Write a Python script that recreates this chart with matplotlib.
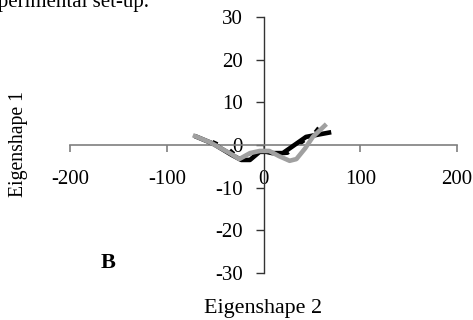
import matplotlib
matplotlib.use("Agg")
import matplotlib.pyplot as plt

plt.rcParams['font.family'] = ['Liberation Serif', 'DejaVu Serif']

# Data (Eigenshape 2, Eigenshape 1)
black_x = [-71, -52, -33, -23, -14, -4, 3, 9, 20, 32, 44, 58, 70]
black_y = [2.1, 0.3, -2.3, -3.5, -3.5, -1.6, -1.6, -1.9, -1.9, 0.0, 1.9, 2.5, 3.0]

gray_x = [-73, -55, -35, -25, -14, -4, 6, 16, 27, 34, 43, 51, 65]
gray_y = [2.3, 0.6, -1.9, -3.3, -1.9, -1.4, -1.4, -2.6, -3.7, -3.3, -0.8, 1.9, 4.9]

dash_x = [-72, -54, -36, -26, -15, -5, 5, 15, 25, 33, 42, 50, 58]
dash_y = [2.0, 1.0, -0.8, -2.8, -2.2, -1.2, -1.3, -2.2, -2.0, -0.6, 0.9, 2.2, 4.5]

xticks = [-200, -100, 0, 100, 200]
yticks = [-30, -20, -10, 0, 10, 20, 30]

fig = plt.figure(figsize=(4.73, 3.20), dpi=100)
ax = fig.add_axes([70/473, 47/320, 387/473, 256/320])

ax.plot(dash_x, dash_y, color='black', lw=2.0, ls=(0, (2, 5)), zorder=2)
ax.plot(black_x, black_y, color='black', lw=3.3, zorder=3, solid_capstyle='butt')
ax.plot(gray_x, gray_y, color='#a0a0a0', lw=3.3, zorder=4, solid_capstyle='butt')

ax.set_xlim(-200, 200)
ax.set_ylim(-30, 30)
ax.spines['left'].set_position(('data', 0))
ax.spines['bottom'].set_position(('data', 0))
ax.spines['top'].set_visible(False)
ax.spines['right'].set_visible(False)
ax.spines['bottom'].set_color('#7f7f7f')
ax.spines['left'].set_color('#333333')
ax.spines['bottom'].set_linewidth(1.2)
ax.spines['left'].set_linewidth(1.0)

ax.set_xticks(xticks)
ax.set_yticks(yticks)
ax.set_xticklabels([str(v) for v in xticks])
ax.set_yticklabels([str(v) for v in yticks])
ax.tick_params(axis='x', direction='out', length=5, width=1.2, color='#7f7f7f',
               labelsize=15, pad=13)
ax.tick_params(axis='y', direction='out', length=6, width=1.0, color='#333333',
               labelsize=15, pad=9)
ax.patch.set_alpha(0)

fig.text(18/473, 1 - 144/320, 'Eigenshape 1', rotation=90, ha='center', va='center', fontsize=14.2)
fig.text(263/473, 1 - 308/320, 'Eigenshape 2', ha='center', va='center', fontsize=15.8)
fig.text(108/473, 1 - 263/320, 'B', ha='center', va='center', fontsize=16, fontweight='bold')
fig.text(-22/473, 1 - 7.5/320, 'experimental set-up.', ha='left', va='baseline', fontsize=15)

fig.savefig('out.png', dpi=100)
